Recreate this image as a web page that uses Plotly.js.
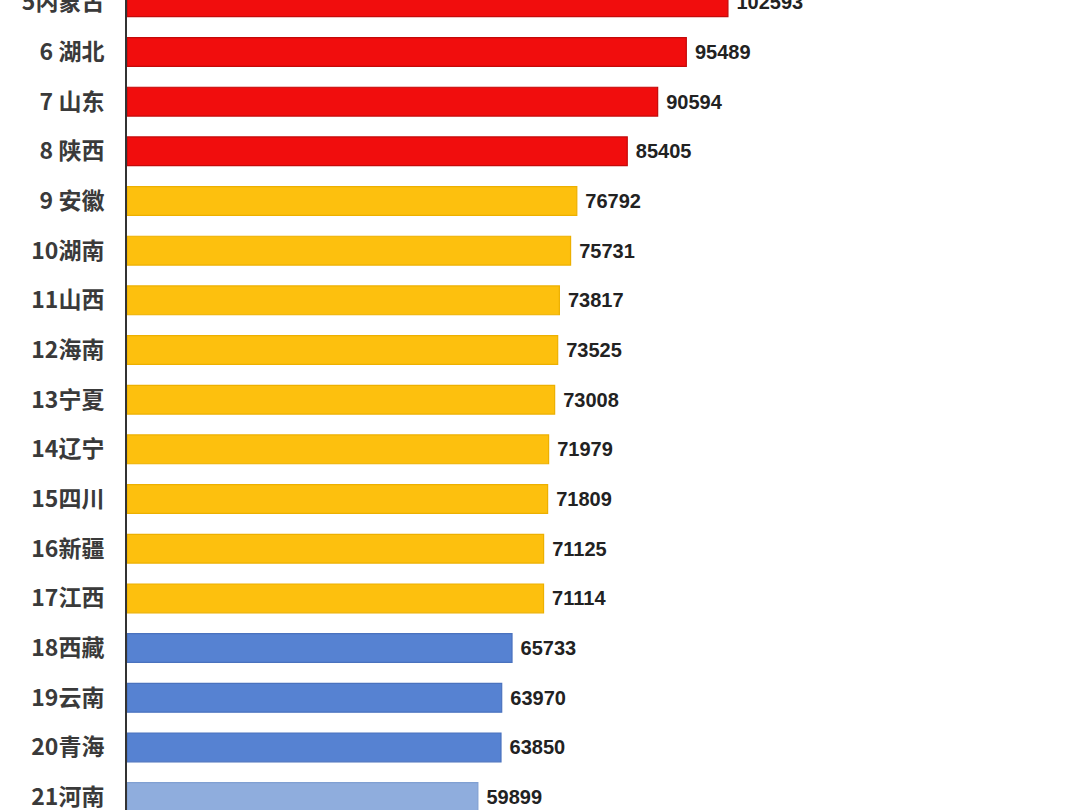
<!DOCTYPE html>
<html>
<head>
<meta charset="utf-8">
<script src="https://cdn.plot.ly/plotly-3.0.1.min.js"></script>
<style>html,body{margin:0;padding:0;background:#fff;}#chart{width:1080px;height:810px;}</style>
</head>
<body>
<div id="chart"></div>
<script>
const categories = ["5内蒙古","6 湖北","7 山东","8 陕西","9 安徽","10湖南","11山西","12海南","13宁夏","14辽宁","15四川","16新疆","17江西","18西藏","19云南","20青海","21河南"];
const values = [102593,95489,90594,85405,76792,75731,73817,73525,73008,71979,71809,71125,71114,65733,63970,63850,59899];
const groups = ["red","red","red","red","gold","gold","gold","gold","gold","gold","gold","gold","gold","blue","blue","blue","light"];
const groupColors = {red:"#F10D0D", gold:"#FDC00E", blue:"#5682D2", light:"#8FADDD"};
const groupEdges = {red:"#C30A0A", gold:"#EDB000", blue:"#4A72BE", light:"#80A0D2"};

const trace = {
  type: "bar",
  orientation: "h",
  y: categories,
  x: values,
  marker: {
    color: groups.map(g => groupColors[g]),
    line: {color: groups.map(g => groupEdges[g]), width: 1.2}
  },
  text: values.map(v => " " + v),
  textposition: "outside",
  cliponaxis: false,
  textfont: {family: "Liberation Sans, Arial, sans-serif", size: 20, color: "#222", weight: "bold"},
  width: 0.58,
  hoverinfo: "none"
};

const layout = {
  width: 1080, height: 810,
  margin: {l: 127, r: 0, t: 0, b: 0},
  paper_bgcolor: "#ffffff",
  plot_bgcolor: "#ffffff",
  showlegend: false,
  xaxis: {range: [0, 162700], visible: false, showgrid: false, zeroline: false},
  yaxis: {
    type: "category",
    range: [16.26, -0.046],
    showline: true, linecolor: "#333", linewidth: 2,
    showgrid: false, zeroline: false, ticks: "",
    ticklabelstandoff: 16,
    tickfont: {family: "Noto Sans CJK SC, sans-serif", size: 23, color: "#3a3a3a", weight: "bold"}
  }
};

Plotly.newPlot("chart", [trace], layout, {staticPlot: true, displayModeBar: false});
</script>
</body>
</html>
